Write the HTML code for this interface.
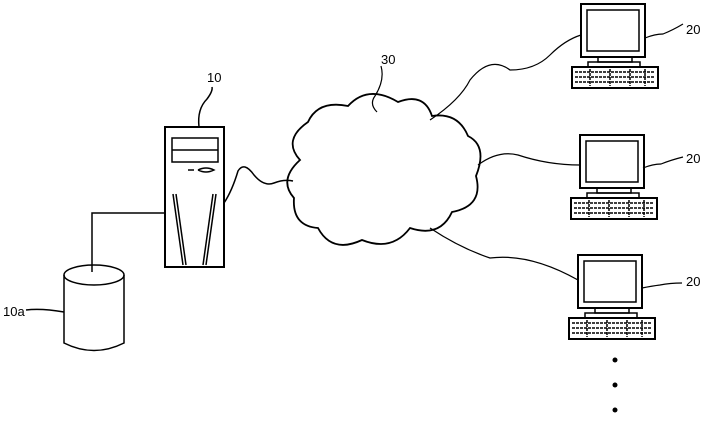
<!DOCTYPE html>
<html><head><style>body{margin:0;background:#fff}svg{display:block}text{font-family:"Liberation Sans",sans-serif;font-size:13px}</style></head><body>
<svg width="709" height="424" viewBox="0 0 709 424" fill="none" stroke="#000" stroke-width="1.5">
<!-- server -->
<rect x="165" y="127" width="59" height="140" stroke-width="2"/>
<rect x="172" y="138" width="46" height="24"/>
<line x1="172" y1="150" x2="218" y2="150"/>
<path d="M188 170 h6 M198 170 q8 -4 16 0 q-8 4 -16 0" />
<line x1="173" y1="194" x2="183" y2="265"/><line x1="176" y1="194" x2="186" y2="265"/>
<line x1="216" y1="194" x2="206" y2="265"/><line x1="213" y1="194" x2="203" y2="265"/>
<path d="M199 127 q-2 -18 8 -28 q6 -8 5 -12"/>
<text x="207" y="82" stroke="none" fill="#000">10</text>
<!-- server to db -->
<path d="M165 213 H92 V272"/>
<!-- db -->
<path d="M64 275 V343 Q94 358 124 343 V275"/>
<ellipse cx="94" cy="275" rx="30" ry="10"/>
<path d="M26 310 q15 -2 38 2"/>
<text x="3" y="316" stroke="none" fill="#000">10a</text>
<!-- server to cloud -->
<path d="M224 203 q8 -12 14 -32 q6 -10 16 4 q10 12 20 8 q10 -4 19 -2"/>
<!-- cloud -->
<path d="M300 160 q-18 -20 8 -38 q10 -22 40 -16 q20 -22 50 -4 q26 -10 34 14 q26 -4 36 20 q20 10 8 40 q8 30 -24 36 q-12 26 -42 16 q-18 24 -48 12 q-30 14 -44 -12 q-26 -2 -24 -30 q-16 -18 6 -38z" stroke-width="1.8"/>
<path d="M381 66 q4 14 -6 30 q-6 8 2 16" stroke-width="1.2"/>
<text x="381" y="64" stroke="none" fill="#000">30</text>
<!-- cloud to PCs -->
<path d="M430 120 q30 -20 40 -40 q20 -25 40 -10 q25 0 40 -15 q15 -15 31 -20" stroke-width="1.2"/>
<path d="M478 165 q20 -15 40 -10 q30 10 62 10" stroke-width="1.2"/>
<path d="M430 228 q30 20 60 30 q40 -5 88 22" stroke-width="1.2"/>
<!-- PC 1 -->
<g id="pc"><rect x="581" y="4" width="64" height="53" stroke-width="2"/>
<rect x="587" y="10" width="52" height="41"/>
<rect x="598" y="57" width="34" height="5"/>
<rect x="588" y="62" width="52" height="5"/>
<rect x="572" y="67" width="86" height="21" stroke-width="2"/>
<path d="M575 72 h80 M575 77 h80 M575 82 h80 M590 69 v17 M610 69 v17 M630 69 v17 M645 69 v17" stroke-width="1.5" stroke-dasharray="3 1"/></g>
<path d="M645 38 q10 -4 18 -4 q10 -4 20 -10" stroke-width="1.2"/>
<text x="686" y="34" stroke="none" fill="#000">20</text>
<use href="#pc" transform="translate(-1 131)"/>
<path d="M643 168 q10 -4 18 -4 q10 -4 22 -7" stroke-width="1.2"/>
<text x="686" y="163" stroke="none" fill="#000">20</text>
<use href="#pc" transform="translate(-3 251)"/>
<path d="M642 288 q10 -2 18 -3 q10 -2 22 -2" stroke-width="1.2"/>
<text x="686" y="286" stroke="none" fill="#000">20</text>
<g fill="#000" stroke="none"><circle cx="615" cy="360" r="2.5"/><circle cx="615" cy="385" r="2.5"/><circle cx="615" cy="410" r="2.5"/></g>
</svg>
</body></html>
